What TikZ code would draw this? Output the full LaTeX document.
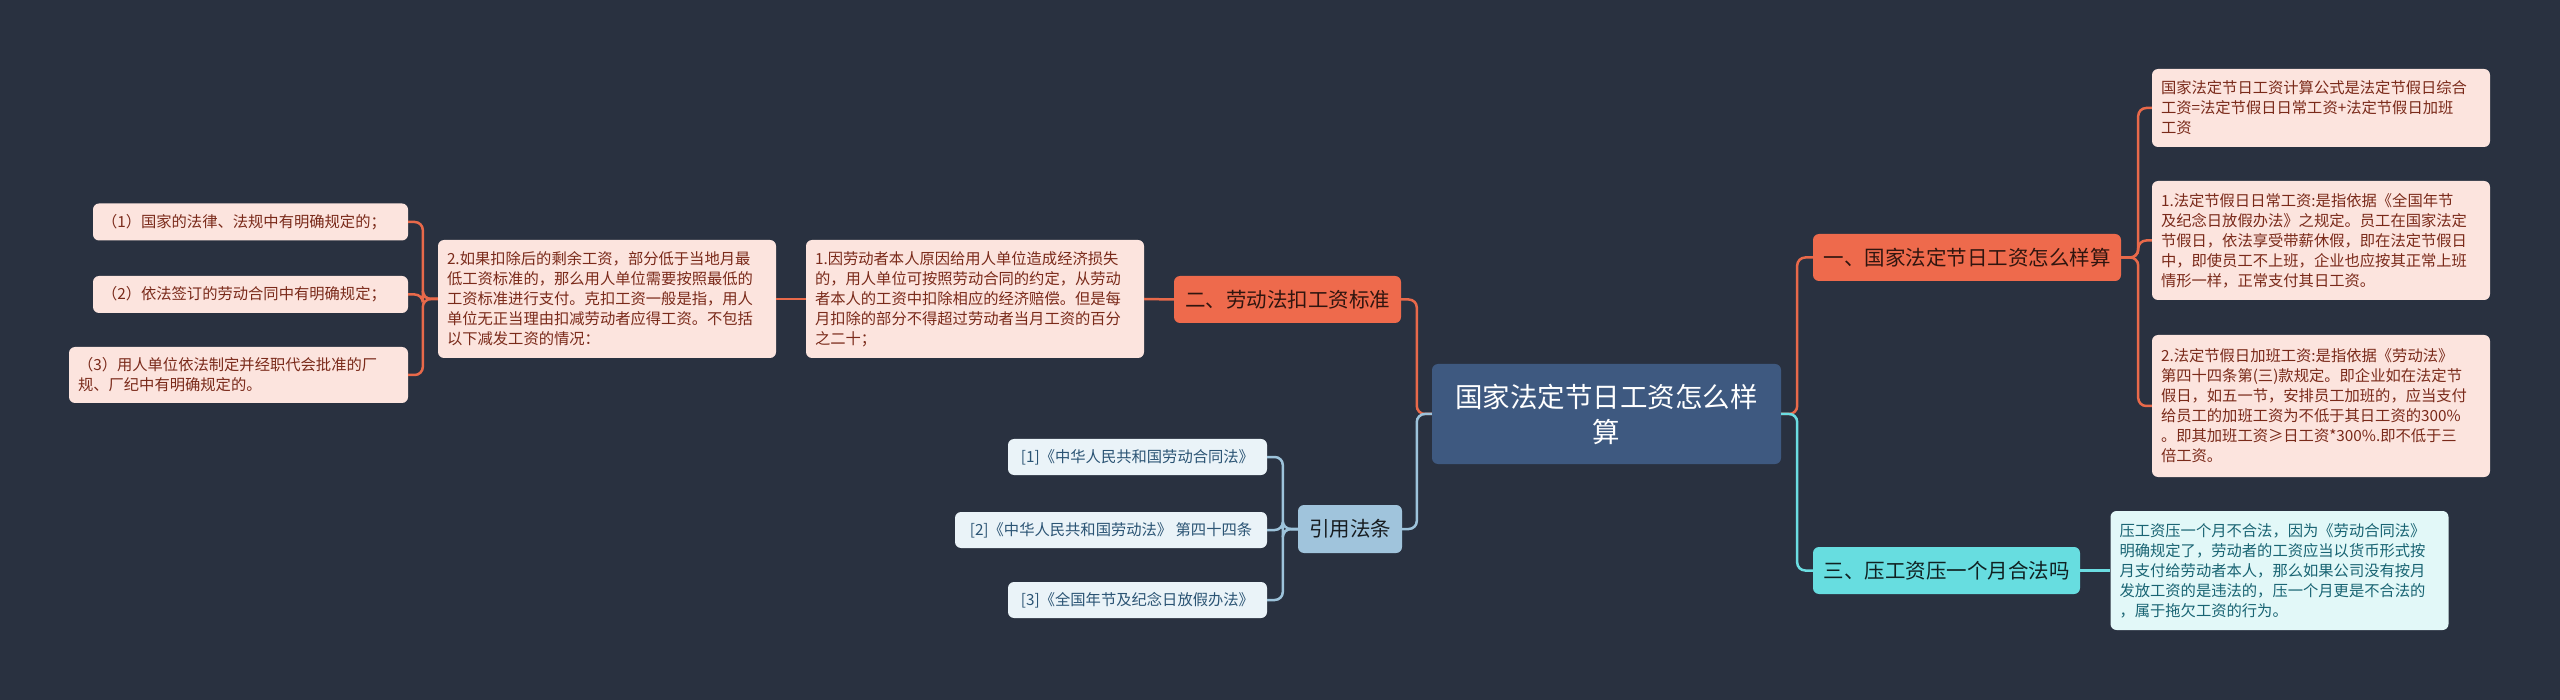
\documentclass[tikz,border=0pt]{standalone}
\usepackage{fontspec}
\setmainfont{Noto Sans CJK SC}
\usetikzlibrary{positioning}

\definecolor{bgnavy}{HTML}{293140}
\definecolor{rootblue}{HTML}{3E5980}
\definecolor{headorange}{HTML}{EE6A4C}
\definecolor{leaforange}{HTML}{FCE4DE}
\definecolor{txtorange}{HTML}{7A2A1A}
\definecolor{headteal}{HTML}{67DDE0}
\definecolor{leafteal}{HTML}{E2F8F8}
\definecolor{txtteal}{HTML}{196473}
\definecolor{headblue}{HTML}{A0C4DC}
\definecolor{leafblue}{HTML}{EAF3F8}
\definecolor{txtblue}{HTML}{2B5474}
\definecolor{lineorange}{HTML}{E8694A}
\definecolor{lineteal}{HTML}{6BDDE2}
\definecolor{lineblue}{HTML}{9DC3DB}

\begin{document}
\begin{tikzpicture}[x=1pt, y=-1pt,
	box/.style={rounded corners=6pt, inner xsep=9pt, inner ysep=0pt},
	leaffont/.style={font=\fontsize{15.3pt}{20pt}\selectfont},
	headfont/.style={font=\fontsize{20.5pt}{24pt}\selectfont},
	rootnode/.style={box, fill=rootblue, text=white, align=center, text width=331pt,
		minimum height=100pt, font=\fontsize{27.5pt}{35pt}\selectfont},
	horange/.style={box, headfont, fill=headorange, text=black!80!headorange, minimum height=47pt},
	hteal/.style={box, headfont, fill=headteal, text=black!85!headteal, minimum height=47pt},
	hblue/.style={box, headfont, fill=headblue, text=black!85!headblue, minimum height=48pt},
	lorange/.style={box, leaffont, fill=leaforange, text=txtorange, align=left, text width=320pt},
	lteal/.style={box, leaffont, fill=leafteal, text=txtteal, align=left, text width=320pt},
	lblue/.style={box, leaffont, fill=leafblue, text=txtblue, minimum height=36pt},
	orangeline/.style={draw=lineorange, line width=2.5pt, rounded corners=8pt},
	tealline/.style={draw=lineteal, line width=2.5pt, rounded corners=8pt},
	blueline/.style={draw=lineblue, line width=2.5pt, rounded corners=8pt}]
	
	% background
	\fill[bgnavy] (0,0) rectangle (2560,700);
	\useasboundingbox (0,0) rectangle (2560,700);
	
	% root
	\node[rootnode] (root) at (1606.5,414) {国家法定节日工资怎么样\\算};
	
	% right branches
	\node[horange, minimum width=308pt] (b1) at (1967,257.5) {一、国家法定节日工资怎么样算};
	\node[hteal, minimum width=267pt] (b3) at (1946.5,570.5) {三、压工资压一个月合法吗};
	
	% left branches
	\node[horange, minimum width=227pt] (b2) at (1287.5,299.5) {二、劳动法扣工资标准};
	\node[hblue, minimum width=104pt] (cite) at (1350,529) {引用法条};
	
	% leaves of b1
	\node[lorange, minimum height=78pt] (r1) at (2321,108) {国家法定节日工资计算公式是法定节假日综合\\工资=法定节假日日常工资+法定节假日加班\\工资};
	\node[lorange, minimum height=119pt] (r2) at (2321,240.5) {1.法定节假日日常工资:是指依据《全国年节\\及纪念日放假办法》之规定。员工在国家法定\\节假日，依法享受带薪休假，即在法定节假日\\中，即使员工不上班，企业也应按其正常上班\\情形一样，正常支付其日工资。};
	\node[lorange, minimum height=142pt] (r3) at (2321,406) {2.法定节假日加班工资:是指依据《劳动法》\\第四十四条第(三)款规定。即企业如在法定节\\假日，如五一节，安排员工加班的，应当支付\\给员工的加班工资为不低于其日工资的300\%\\。即其加班工资≥日工资*300\%.即不低于三\\倍工资。};
	
	% leaf of b3
	\node[lteal, minimum height=119pt] (t1) at (2279.5,570.5) {压工资压一个月不合法，因为《劳动合同法》\\明确规定了，劳动者的工资应当以货币形式按\\月支付给劳动者本人，那么如果公司没有按月\\发放工资的是违法的，压一个月更是不合法的\\，属于拖欠工资的行为。};
	
	% chain of b2
	\node[lorange, minimum height=118pt] (l1) at (975,299) {1.因劳动者本人原因给用人单位造成经济损失\\的，用人单位可按照劳动合同的约定，从劳动\\者本人的工资中扣除相应的经济赔偿。但是每\\月扣除的部分不得超过劳动者当月工资的百分\\之二十；};
	\node[lorange, minimum height=118pt] (l2) at (607,299) {2.如果扣除后的剩余工资，部分低于当地月最\\低工资标准的，那么用人单位需要按照最低的\\工资标准进行支付。克扣工资一般是指，用人\\单位无正当理由扣减劳动者应得工资。不包括\\以下减发工资的情况：};
	\node[lorange, text width=297pt, minimum height=37pt] (k1) at (250.5,222) {（1）国家的法律、法规中有明确规定的；};
	\node[lorange, text width=297pt, minimum height=37pt] (k2) at (250.5,294.5) {（2）依法签订的劳动合同中有明确规定；};
	\node[lorange, text width=321pt, minimum height=56pt] (k3) at (238.5,375) {（3）用人单位依法制定并经职代会批准的厂\\规、厂纪中有明确规定的。};
	
	% citations
	\node[lblue, minimum width=259pt] (c1) at (1137.5,457) {[1]《中华人民共和国劳动合同法》};
	\node[lblue, minimum width=312pt] (c2) at (1111,530) {[2]《中华人民共和国劳动法》 第四十四条};
	\node[lblue, minimum width=259pt] (c3) at (1137.5,600) {[3]《全国年节及纪念日放假办法》};
	
	% connectors, right side
	\draw[orangeline] (root.east) -- ++(16,0) |- (b1.west);
	\draw[tealline] (root.east) -- ++(16,0) |- (b3.west);
	\foreach \n in {r1,r2,r3}
		\draw[orangeline] (b1.east) -- ++(17,0) |- (\n.west);
	\draw[tealline] (b3.east) -- (t1.west);
	
	% connectors, left side
	\draw[orangeline] (root.west) -- ++(-15,0) |- (b2.east);
	\draw[blueline] (root.west) -- ++(-15,0) |- (cite.east);
	\draw[orangeline] (b2.west) -- (l1.east);
	\draw[orangeline] (l1.west) -- (l2.east);
	\foreach \n in {k1,k2,k3}
		\draw[orangeline] (l2.west) -- ++(-15,0) |- (\n.east);
	\foreach \n in {c1,c2,c3}
		\draw[blueline] (cite.west) -- ++(-15,0) |- (\n.east);
	
\end{tikzpicture}
\end{document}
